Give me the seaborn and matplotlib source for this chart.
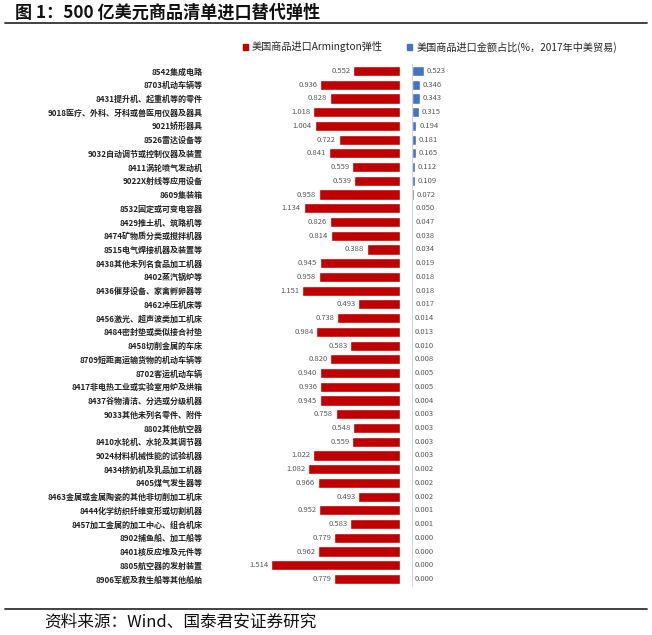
import seaborn as sns
import matplotlib.pyplot as plt
import pandas as pd
from matplotlib.lines import Line2D
from matplotlib.patches import Patch

# Datos
categorias = [
    "8542集成电路", "8703机动车辆等", "8431提升机、起重机等的零件",
    "9018医疗、外科、牙科或兽医用仪器及器具", "9021矫形器具", "8526雷达设备等",
    "9032自动调节或控制仪器及装置", "8411涡轮喷气发动机", "9022X射线等应用设备",
    "8609集装箱", "8532固定或可变电容器", "8429推土机、筑路机等",
    "8474矿物质分类或搅拌机器", "8515电气焊接机器及装置等", "8438其他未列名食品加工机器",
    "8402蒸汽锅炉等", "8436催芽设备、家禽孵卵器等", "8462冲压机床等",
    "8456激光、超声波类加工机床", "8484密封垫或类似接合衬垫", "8458切削金属的车床",
    "8709短距离运输货物的机动车辆等", "8702客运机动车辆", "8417非电热工业或实验室用炉及烘箱",
    "8437谷物清洁、分选或分级机器", "9033其他未列名零件、附件", "8802其他航空器",
    "8410水轮机、水轮及其调节器", "9024材料机械性能的试验机器", "8434挤奶机及乳品加工机器",
    "8405煤气发生器等", "8463金属或金属陶瓷的其他非切削加工机床", "8444化学纺织纤维变形或切割机器",
    "8457加工金属的加工中心、组合机床", "8902捕鱼船、加工船等", "8401核反应堆及元件等",
    "8805航空器的发射装置", "8906军舰及救生船等其他船舶",
]
elasticidad = [
    0.552, 0.936, 0.828, 1.018, 1.004, 0.722, 0.841, 0.559, 0.539, 0.958,
    1.134, 0.826, 0.814, 0.388, 0.945, 0.958, 1.151, 0.493, 0.738, 0.984,
    0.583, 0.820, 0.940, 0.936, 0.945, 0.758, 0.548, 0.559, 1.022, 1.082,
    0.966, 0.493, 0.952, 0.583, 0.779, 0.962, 1.514, 0.779,
]
participacion = [
    0.523, 0.346, 0.343, 0.315, 0.194, 0.181, 0.165, 0.112, 0.109, 0.072,
    0.050, 0.047, 0.038, 0.034, 0.019, 0.018, 0.018, 0.017, 0.014, 0.013,
    0.010, 0.008, 0.005, 0.005, 0.004, 0.003, 0.003, 0.003, 0.003, 0.002,
    0.002, 0.002, 0.001, 0.001, 0.000, 0.000, 0.000, 0.000,
]
leyenda = ["美国商品进口Armington弹性", "美国商品进口金额占比(%，2017年中美贸易)"]
titulo = "图 1：500 亿美元商品清单进口替代弹性"
fuente = "资料来源：Wind、国泰君安证券研究"

ROJO = "#C00000"
AZUL = "#4472C4"

sns.set_style("white")
plt.rcParams["font.family"] = ["Noto Sans CJK SC", "DejaVu Sans"]

df = pd.DataFrame({"cat": categorias, "elas": elasticidad, "part": participacion})

W, H = 652, 635
fig = plt.figure(figsize=(W / 100, H / 100), dpi=100)

# Ejes: posiciones en pixeles
fila = 13.73
y_top = 71 - fila / 2
y_bot = 579 + fila / 2
ax_y = 1 - y_bot / H
ax_h = (y_bot - y_top) / H

ax1 = fig.add_axes([210 / W, ax_y, 190 / W, ax_h])
ax2 = fig.add_axes([412 / W, ax_y, 60 / W, ax_h])

# Barras rojas (hacia la izquierda)
sns.barplot(data=df, y="cat", x="elas", color=ROJO, width=0.74, saturation=1,
            orient="h", ax=ax1)
ax1.set_xlim(190 / 85, 0)
ax1.set_ylim(len(categorias) - 0.5, -0.5)
ax1.set_xlabel("")
ax1.set_ylabel("")
ax1.set_xticks([])
ax1.tick_params(axis="y", length=0, pad=5)
for lab in ax1.get_yticklabels():
    lab.set_fontsize(5.8)
    lab.set_fontweight("bold")
    lab.set_color("#222222")
for s in ax1.spines.values():
    s.set_visible(False)
for i, v in enumerate(elasticidad):
    ax1.annotate(f"{v:.3f}", (v, i), xytext=(-2, 0), textcoords="offset points",
                 ha="right", va="center", fontsize=5.5, color="#595959")

# Barras azules (hacia la derecha)
sns.barplot(data=df, y="cat", x="part", color=AZUL, width=0.74, saturation=1,
            orient="h", ax=ax2)
ax2.set_xlim(0, 60 / 23)
ax2.set_ylim(len(categorias) - 0.5, -0.5)
ax2.set_xlabel("")
ax2.set_ylabel("")
ax2.set_xticks([])
ax2.set_yticks([])
for s in ax2.spines.values():
    s.set_visible(False)
ax2.spines["left"].set_visible(True)
ax2.spines["left"].set_color("#d0d0d0")
ax2.spines["left"].set_linewidth(0.6)
for i, v in enumerate(participacion):
    ax2.annotate(f"{v:.3f}", (v, i), xytext=(2, 0), textcoords="offset points",
                 ha="left", va="center", fontsize=5.5, color="#595959")

# Leyenda
handles = [Patch(color=ROJO, label=leyenda[0]), Patch(color=AZUL, label=leyenda[1])]
fig.legend(handles=handles, loc="center", bbox_to_anchor=(430 / W, 1 - 47 / H),
           ncol=2, frameon=False, fontsize=7.3, handlelength=0.5, handleheight=0.5,
           handletextpad=0.4, columnspacing=2.4)

# Titulo, lineas y fuente
fig.text(15 / W, 1 - 13 / H, titulo, fontsize=12.3, fontweight="bold",
         ha="left", va="center", color="#111111")
fig.add_artist(Line2D([5 / W, 647 / W], [1 - 23 / H] * 2, color="#333333", lw=1.3))
fig.add_artist(Line2D([5 / W, 647 / W], [1 - 609 / H] * 2, color="#333333", lw=1.3))
fig.text(44 / W, 1 - 622 / H, fuente, fontsize=12, ha="left", va="center",
         color="#111111")

fig.savefig("out.png", dpi=100)
